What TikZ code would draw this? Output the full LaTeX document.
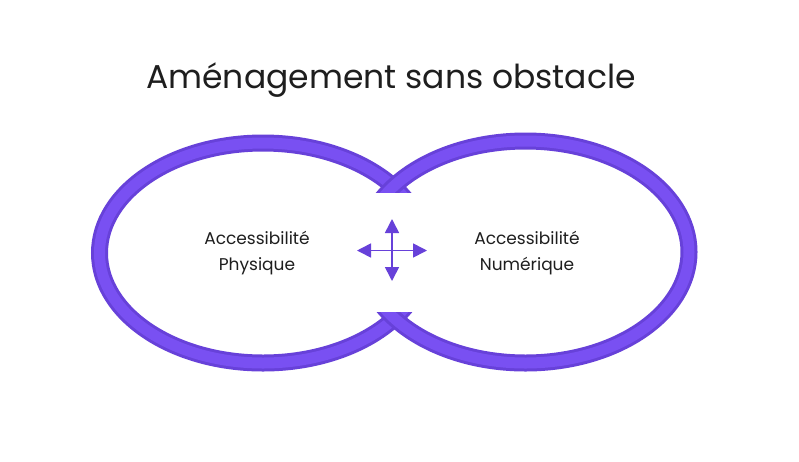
\documentclass[tikz,border=0pt]{standalone}
\usepackage{fontspec}
\setmainfont{Poppins}
\usetikzlibrary{arrows.meta}
\definecolor{ringedge}{HTML}{6741D9}
\definecolor{ringfill}{HTML}{7950F2}
\definecolor{ink}{HTML}{1E1E1E}
\begin{document}
\begin{tikzpicture}[x=1pt,y=-1pt,
  ringout/.style={draw=ringedge,line width=17pt},
  ringin/.style={draw=ringfill,line width=11pt},
  caption/.style={text=ink,font=\fontsize{17}{26}\selectfont,align=center,inner sep=0pt},
  heading/.style={text=ink,font=\fontsize{33}{40}\selectfont,inner sep=0pt},
  pointer/.style={draw=ringedge,line width=1.6pt,-{Triangle[width=14pt,length=14pt]}}]
\useasboundingbox (0,0) rectangle (799,461);
\fill[white] (0,0) rectangle (799,461);

% left ring
\draw[ringout] (263,253) ellipse [x radius=163.5, y radius=110];
\draw[ringin]  (263,253) ellipse [x radius=163.5, y radius=110];
% right ring, overlapping on top
\draw[ringout] (525.5,252) ellipse [x radius=163.5, y radius=111];
\draw[ringin]  (525.5,252) ellipse [x radius=163.5, y radius=111];
% opening between the two rings
\fill[white] (350,193) rectangle (448,311.5);

% four-way arrow
\coordinate (hub) at (392,250.5);
\coordinate (up) at (392,219);
\coordinate (down) at (392,281);
\coordinate (west) at (357,250.5);
\coordinate (east) at (427,250.5);
\draw[pointer] (hub) -- (up);
\draw[pointer] (hub) -- (down);
\draw[pointer] (hub) -- (west);
\draw[pointer] (hub) -- (east);

% labels
\node[heading] (title) at (391,80) {Aménagement sans obstacle};
\node[caption] (phys) at (257,253) {Accessibilité\\Physique};
\node[caption] (num) at (527,253) {Accessibilité\\Numérique};
\end{tikzpicture}
\end{document}
